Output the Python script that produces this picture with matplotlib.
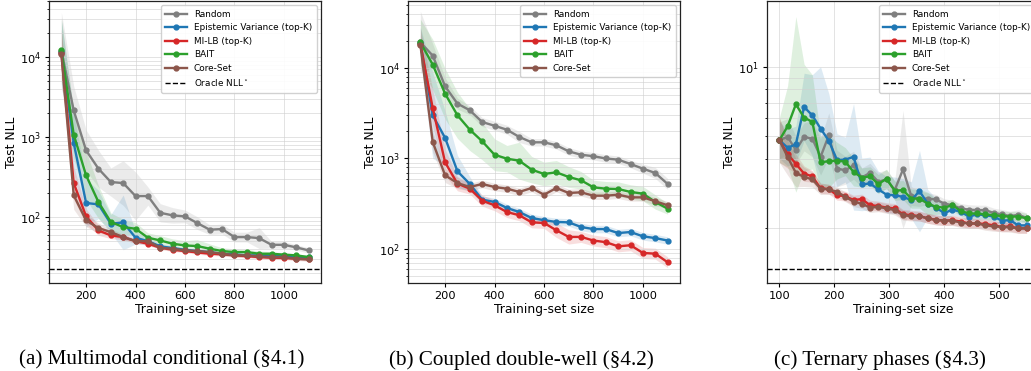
import numpy as np
import matplotlib.pyplot as plt

# ---- (a) multimodal conditional -------------------------------------------
sizes_a = [100, 150, 200, 250, 300, 350, 400, 450, 500, 550, 600,
           650, 700, 750, 800, 850, 900, 950, 1000, 1050, 1100]
random_a = [12000, 2150, 681, 402, 274, 266, 183, 183, 113, 105, 102,
            84, 69.5, 70.8, 56.2, 56.2, 54.6, 45, 45, 41.8, 38.3]
epivar_a = [11550, 841, 150, 144, 82.5, 85.8, 55.2, 50, 43, 41, 39,
            37.6, 36.5, 34.8, 34.2, 33.2, 33.2, 32.8, 32.2, 31.6, 31.6]
milb_a = [11200, 266, 102, 68, 59, 56.2, 50, 46.4, 41.4, 39, 37.6,
          36.1, 34.8, 34.2, 33.2, 32.5, 31.6, 31, 30.8, 30.1, 29.9]
bait_a = [12100, 1070, 332, 154, 86.6, 75, 71.4, 55.2, 51, 46.4, 44.2,
          43.4, 40.2, 37.6, 36.5, 36.5, 34.8, 34.8, 33.9, 33.2, 31.6]
coreset_a = [11000, 187, 90.9, 72.9, 64.9, 56.2, 50, 50, 41.4, 40.2, 38.3,
             37.6, 36.5, 34.8, 33.2, 33.2, 32.2, 31.6, 31.6, 30.1, 29.5]
# multiplicative spread of the shaded band (mean / f .. mean * f)
random_a_f = [3.0, 2.0, 1.8, 1.7, 1.5, 1.9, 2.0, 1.3, 1.3, 1.25, 1.2,
              1.2, 1.15, 1.15, 1.15, 1.15, 1.35, 1.1, 1.1, 1.08, 1.08]
epivar_a_f = [2.5, 2.4, 2.0, 1.5, 1.3, 2.2, 1.2, 1.1, 1.08, 1.06, 1.06,
              1.05, 1.05, 1.05, 1.05, 1.05, 1.05, 1.05, 1.05, 1.05, 1.05]
milb_a_f = [2.0, 1.6, 1.25, 1.15, 1.1, 1.08, 1.06, 1.05, 1.05, 1.05, 1.05,
            1.05, 1.05, 1.05, 1.05, 1.05, 1.05, 1.05, 1.05, 1.05, 1.05]
bait_a_f = [2.5, 2.0, 2.0, 1.6, 1.3, 1.25, 1.2, 1.15, 1.15, 1.15, 1.15,
            1.2, 1.15, 1.1, 1.1, 1.08, 1.08, 1.06, 1.06, 1.05, 1.05]
coreset_a_f = [2.0, 1.5, 1.2, 1.15, 1.1, 1.08, 1.06, 1.05, 1.05, 1.05, 1.05,
               1.05, 1.05, 1.05, 1.05, 1.05, 1.05, 1.05, 1.05, 1.05, 1.05]
oracle_a = 22.4

# ---- (b) coupled double-well -----------------------------------------------
sizes_b = sizes_a
random_b = [19200, 13700, 6270, 4040, 3410, 2530, 2300, 2080, 1730, 1510, 1510,
            1400, 1200, 1100, 1060, 1000, 971, 869, 772, 692, 523]
epivar_b = [18900, 3000, 1690, 722, 523, 351, 331, 284, 256, 220, 208,
            199, 197, 175, 166, 166, 150, 154, 138, 132, 124]
milb_b = [18400, 3610, 908, 527, 464, 342, 304, 256, 236, 197, 194,
          161, 136, 136, 124, 119, 107, 110, 90.4, 88.8, 71.3]
bait_b = [19200, 10900, 5200, 3000, 2080, 1550, 1100, 995, 946, 753, 675,
          703, 625, 574, 480, 464, 460, 427, 409, 331, 279]
coreset_b = [18100, 1520, 652, 535, 484, 523, 484, 464, 427, 472, 398,
             472, 416, 423, 388, 388, 398, 372, 372, 337, 304]
random_b_f = [2.2, 1.35, 1.25, 1.15, 1.12, 1.12, 1.12, 1.12, 1.15, 1.1, 1.1,
              1.1, 1.1, 1.1, 1.1, 1.1, 1.1, 1.1, 1.12, 1.15, 1.15]
epivar_b_f = [1.5, 3.0, 2.0, 1.5, 1.2, 1.1, 1.1, 1.1, 1.1, 1.1, 1.1,
              1.1, 1.1, 1.1, 1.1, 1.1, 1.1, 1.1, 1.1, 1.1, 1.1]
milb_b_f = [1.5, 1.6, 1.4, 1.2, 1.15, 1.15, 1.15, 1.15, 1.15, 1.15, 1.15,
            1.2, 1.2, 1.15, 1.15, 1.15, 1.15, 1.15, 1.15, 1.15, 1.15]
bait_b_f = [1.8, 1.9, 1.9, 1.8, 1.7, 1.6, 1.5, 1.4, 1.6, 1.4, 1.35,
            1.35, 1.3, 1.25, 1.2, 1.2, 1.2, 1.2, 1.2, 1.2, 1.15]
coreset_b_f = [1.3, 1.3, 1.2, 1.15, 1.1, 1.1, 1.1, 1.1, 1.1, 1.1, 1.1,
               1.1, 1.1, 1.1, 1.1, 1.1, 1.1, 1.1, 1.1, 1.1, 1.1]

# ---- (c) ternary phases ----------------------------------------------------
sizes_c = [100, 115, 130, 145, 160, 175, 190, 205, 220, 235, 250,
           265, 280, 295, 310, 325, 340, 355, 370, 385, 400,
           415, 430, 445, 460, 475, 490, 505, 520, 535, 550]
random_c = [4.82, 4.98, 4.36, 4.98, 4.89, 4.08, 5.06, 3.63, 3.57, 3.75, 3.32,
            3.48, 3.18, 3.26, 2.93, 3.60, 2.76, 2.69, 2.69, 2.67, 2.56,
            2.52, 2.44, 2.41, 2.40, 2.40, 2.33, 2.30, 2.26, 2.29, 2.22]
epivar_c = [4.82, 4.47, 4.62, 6.71, 6.17, 5.41, 4.79, 3.95, 3.97, 4.08, 3.10,
            3.13, 2.95, 2.80, 2.78, 2.74, 2.65, 2.90, 2.56, 2.46, 2.33,
            2.41, 2.36, 2.25, 2.30, 2.28, 2.25, 2.16, 2.17, 2.06, 2.06]
milb_c = [4.82, 4.19, 3.81, 3.45, 3.36, 2.98, 2.96, 2.78, 2.76, 2.65, 2.68,
          2.52, 2.50, 2.46, 2.44, 2.30, 2.28, 2.26, 2.21, 2.18, 2.16,
          2.17, 2.14, 2.10, 2.10, 2.09, 2.06, 2.03, 2.04, 2.00, 2.00]
bait_c = [4.82, 5.53, 6.89, 6.04, 5.78, 3.86, 3.91, 3.93, 3.89, 3.51, 3.32,
          3.36, 3.11, 3.28, 2.91, 2.93, 2.69, 2.69, 2.56, 2.48, 2.46,
          2.52, 2.38, 2.32, 2.32, 2.30, 2.28, 2.26, 2.25, 2.25, 2.21]
coreset_c = [4.82, 4.08, 3.48, 3.34, 3.26, 2.97, 2.95, 2.88, 2.74, 2.61, 2.56,
             2.46, 2.48, 2.44, 2.40, 2.28, 2.26, 2.26, 2.21, 2.17, 2.16,
             2.16, 2.12, 2.10, 2.10, 2.06, 2.04, 2.03, 2.02, 2.00, 2.00]
random_c_f = [1.2, 1.2, 1.15, 1.15, 1.2, 1.2, 1.25, 1.2, 1.15, 1.15, 1.1,
              1.1, 1.1, 1.1, 1.1, 1.8, 1.1, 1.08, 1.06, 1.05, 1.05,
              1.05, 1.05, 1.05, 1.05, 1.05, 1.05, 1.05, 1.05, 1.05, 1.05]
epivar_c_f = [1.2, 1.2, 1.2, 1.4, 1.5, 1.85, 1.6, 1.3, 1.25, 1.7, 1.3,
              1.3, 1.2, 1.2, 1.2, 1.2, 1.2, 1.5, 1.15, 1.1, 1.08,
              1.06, 1.05, 1.05, 1.05, 1.05, 1.05, 1.05, 1.05, 1.05, 1.05]
milb_c_f = [1.25, 1.15, 1.1, 1.08, 1.06, 1.05, 1.05, 1.05, 1.05, 1.05, 1.05,
            1.05, 1.05, 1.05, 1.05, 1.05, 1.05, 1.05, 1.05, 1.05, 1.05,
            1.05, 1.05, 1.05, 1.05, 1.05, 1.05, 1.05, 1.05, 1.05, 1.05]
bait_c_f = [1.25, 1.5, 2.4, 1.7, 1.6, 1.3, 1.3, 1.2, 1.15, 1.15, 1.1,
            1.1, 1.1, 1.1, 1.1, 1.1, 1.1, 1.1, 1.12, 1.08, 1.06,
            1.06, 1.05, 1.05, 1.05, 1.05, 1.05, 1.05, 1.05, 1.05, 1.05]
coreset_c_f = [1.25, 1.2, 1.15, 1.1, 1.08, 1.06, 1.05, 1.05, 1.05, 1.05, 1.05,
               1.05, 1.05, 1.05, 1.05, 1.05, 1.05, 1.05, 1.05, 1.05, 1.05,
               1.05, 1.05, 1.05, 1.05, 1.05, 1.05, 1.05, 1.05, 1.05, 1.05]
oracle_c = 1.336

method_names = ['Random', 'Epistemic Variance (top-K)', 'MI-LB (top-K)', 'BAIT', 'Core-Set']
method_colors = ['tab:gray', 'tab:blue', 'tab:red', 'tab:green', 'tab:brown']
captions = ['(a) Multimodal conditional (§4.1)',
            '(b) Coupled double-well (§4.2)',
            '(c) Ternary phases (§4.3)']

W, H = 1031, 371
fig = plt.figure(figsize=(W / 100, H / 100), dpi=100)


def make_panel(left, sizes, curves, spreads, ylim, oracle=None):
    ax = fig.add_axes([left / W, 88 / H, 272 / W, 282 / H])
    x = np.array(sizes, dtype=float)
    for name, color, mean, f in zip(method_names, method_colors, curves, spreads):
        mean = np.array(mean)
        f = np.array(f)
        ax.fill_between(x, mean / f, mean * f, color=color, alpha=0.15, lw=0)
        ax.plot(x, mean, '-o', color=color, lw=1.7, ms=3.5, label=name)
    if oracle is not None:
        ax.axhline(oracle, color='k', ls='--', lw=1, label='Oracle NLL$^\\star$')
    ax.set_yscale('log')
    ax.set_ylim(*ylim)
    span = x[-1] - x[0]
    ax.set_xlim(x[0] - 0.05 * span, x[-1] + 0.05 * span)
    ax.grid(True, which='both', color='#d0d0d0', alpha=0.6, lw=0.7)
    ax.tick_params(labelsize=8.2, length=3, width=0.8, pad=2.5)
    ax.tick_params(which='minor', length=1.8, width=0.6)
    for s in ax.spines.values():
        s.set_color('#222222')
        s.set_linewidth(0.9)
    ax.set_xlabel('Training-set size', fontsize=8.9, labelpad=1.5)
    ax.set_ylabel('Test NLL', fontsize=8.9, labelpad=1.5)
    ax.legend(loc='upper right', fontsize=6.4, handlelength=2.4,
              borderpad=0.5, framealpha=0.9)
    return ax


make_panel(49, sizes_a,
           [random_a, epivar_a, milb_a, bait_a, coreset_a],
           [random_a_f, epivar_a_f, milb_a_f, bait_a_f, coreset_a_f],
           (15.0, 50100), oracle_a)
make_panel(408, sizes_b,
           [random_b, epivar_b, milb_b, bait_b, coreset_b],
           [random_b_f, epivar_b_f, milb_b_f, bait_b_f, coreset_b_f],
           (42.1, 55000))
make_panel(767, sizes_c,
           [random_c, epivar_c, milb_c, bait_c, coreset_c],
           [random_c_f, epivar_c_f, milb_c_f, bait_c_f, coreset_c_f],
           (1.16, 19.3), oracle_c)

for cx, text in zip([162, 521, 880], captions):
    fig.text(cx / W, 1 - 360 / H, text, ha='center', va='center',
             fontsize=15.2, family='Liberation Serif')

fig.savefig('out.png', dpi=100)
